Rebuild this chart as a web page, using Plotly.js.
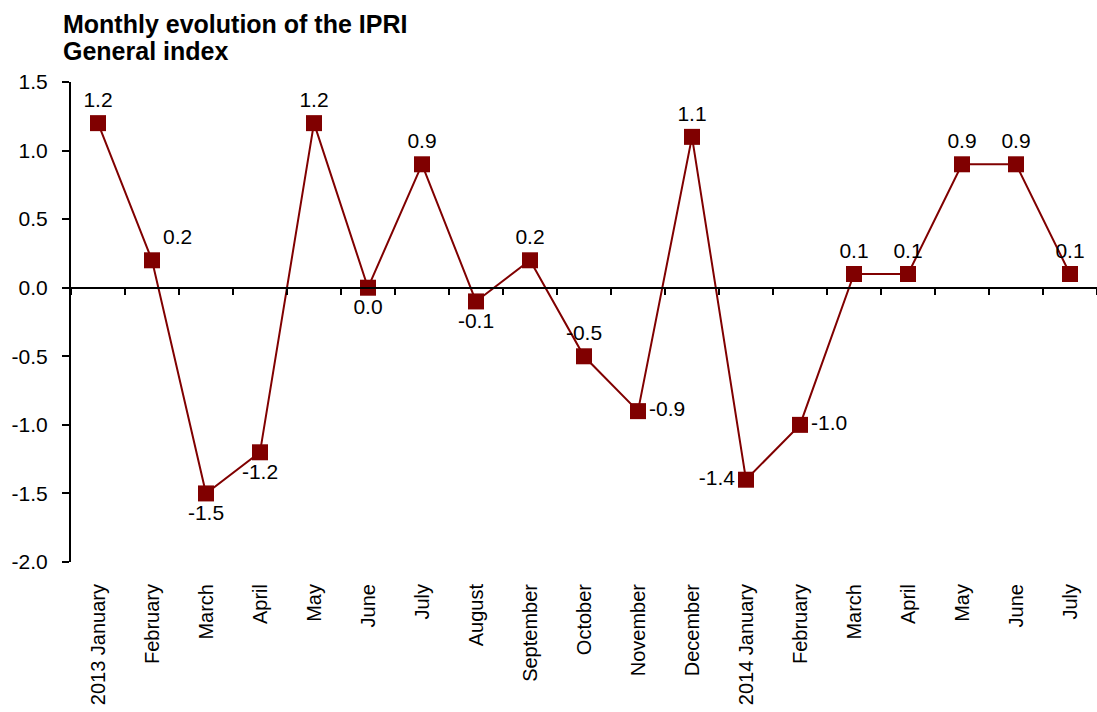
<!DOCTYPE html>
<html>
<head>
<meta charset="utf-8">
<script src="https://cdn.plot.ly/plotly-3.0.1.min.js"></script>
<style>html,body{margin:0;padding:0;background:#fff;}#chart{width:1097px;height:712px;}</style>
</head>
<body>
<div id="chart"></div>
<script>
const titleLines = ["Monthly evolution of the IPRI", "General index"];
const months = ["2013 January","February","March","April","May","June","July","August","September","October","November","December","2014 January","February","March","April","May","June","July"];
const values = [1.2,0.2,-1.5,-1.2,1.2,0.0,0.9,-0.1,0.2,-0.5,-0.9,1.1,-1.4,-1.0,0.1,0.1,0.9,0.9,0.1];
const labelPos = ["top center","top right","bottom center","bottom center","top center","bottom center","top center","bottom center","top center","top center","middle right","top center","middle left","middle right","top center","top center","top center","top center","top center"];
const yTicks = [-2.0,-1.5,-1.0,-0.5,0.0,0.5,1.0,1.5];

const idx = months.map((m,i)=>i);
const boundaries = [];
for (let i = 0; i <= months.length; i++) boundaries.push(i - 0.5);

const font = "Liberation Sans, Arial, sans-serif";
const col = "#800000";

const trace = {
  x: idx, y: values,
  type: "scatter", mode: "lines+markers+text",
  line: {color: col, width: 2},
  marker: {symbol: "square", size: 16, color: col},
  text: values.map(v => v.toFixed(1)),
  textposition: labelPos,
  textfont: {family: font, size: 21, color: "#000"},
  cliponaxis: false,
  hoverinfo: "skip",
  showlegend: false
};
const axisTrace = {
  x: [boundaries[0], boundaries[boundaries.length-1]], y: [0,0],
  xaxis: "x2", yaxis: "y", type: "scatter", mode: "lines",
  line: {color: "rgba(0,0,0,0)", width: 0}, hoverinfo: "skip", showlegend: false
};

const H = 480, TOP = 82;
const py = p => (TOP + H - p) / H;

const layout = {
  width: 1097, height: 712,
  margin: {l: 71, r: 0, t: 82, b: 150},
  paper_bgcolor: "#fff", plot_bgcolor: "#fff",
  font: {family: font, size: 20, color: "#000"},
  annotations: [
    {text: "<b>" + titleLines[0] + "</b>", xref: "paper", yref: "paper", x: -10/1026, y: py(24), xanchor: "left", yanchor: "middle", showarrow: false, font: {family: font, size: 25, color: "#000"}},
    {text: "<b>" + titleLines[1] + "</b>", xref: "paper", yref: "paper", x: -10/1026, y: py(51), xanchor: "left", yanchor: "middle", showarrow: false, font: {family: font, size: 25, color: "#000"}}
  ],
  xaxis: {
    range: [-0.5, months.length - 0.5],
    tickmode: "array", tickvals: idx, ticktext: months,
    tickangle: -90, ticks: "", showline: false, showgrid: false, zeroline: false,
    ticklabelstandoff: 17,
    tickfont: {family: font, size: 20, color: "#000"}
  },
  xaxis2: {
    overlaying: "x", anchor: "free", position: 2/3.5,
    range: [-0.5, months.length - 0.5],
    tickmode: "array", tickvals: boundaries, showticklabels: false,
    ticks: "outside", ticklen: 6, tickwidth: 2, tickcolor: "#000",
    showline: true, linecolor: "#000", linewidth: 2,
    showgrid: false, zeroline: false
  },
  yaxis: {
    range: [-2.0, 1.5],
    tickmode: "array", tickvals: yTicks, ticktext: yTicks.map(v => v.toFixed(1)),
    ticks: "outside", ticklen: 7, tickwidth: 2, tickcolor: "#000",
    showline: true, linecolor: "#000", linewidth: 2,
    showgrid: false, zeroline: false,
    ticklabelstandoff: 10,
    tickfont: {family: font, size: 21, color: "#000"}
  }
};

Plotly.newPlot("chart", [axisTrace, trace], layout, {displayModeBar: false, staticPlot: true});
</script>
</body>
</html>
